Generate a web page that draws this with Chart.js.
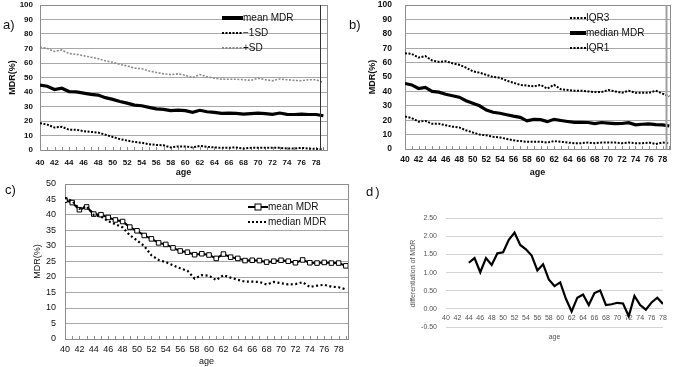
<!DOCTYPE html>
<html>
<head>
<meta charset="utf-8">
<script src="https://cdn.jsdelivr.net/npm/chart.js@4.4.0/dist/chart.umd.min.js"></script>
<style>
    body { margin: 0; background: #fff; width: 677px; height: 367px; position: relative; overflow: hidden; font-family: "Liberation Sans", Arial, sans-serif; }
    canvas { position: absolute; }
    .tag { position: absolute; font-size: 13px; color: #111; }
    .leg { position: absolute; font-size: 10px; color: #111; }
    .leg div { height: 15px; line-height: 15px; white-space: nowrap; }
    .leg svg { vertical-align: middle; }
</style>
</head>
<body>
<canvas id="chartA" width="340" height="180" style="left:0;top:0"></canvas>
<canvas id="chartB" width="337" height="180" style="left:340px;top:0"></canvas>
<canvas id="chartC" width="360" height="192" style="left:0;top:175px"></canvas>
<canvas id="chartD" width="317" height="192" style="left:360px;top:175px"></canvas>

<div class="tag" style="left:3px;top:17px">a)</div>
<div class="tag" style="left:349px;top:17px">b)</div>
<div class="tag" style="left:5px;top:182px">c)</div>
<div class="tag" style="left:366px;top:184px;letter-spacing:2px">d)</div>

<div class="leg" style="left:222px;top:10px">
    <div><svg width="21" height="8"><line x1="0" y1="4" x2="21" y2="4" stroke="#000" stroke-width="4"/></svg>mean MDR</div>
    <div><svg width="21" height="8"><line x1="0" y1="4" x2="21" y2="4" stroke="#000" stroke-width="2" stroke-dasharray="2,1.5"/></svg>−1SD</div>
    <div><svg width="21" height="8"><line x1="0" y1="4" x2="21" y2="4" stroke="#888" stroke-width="2" stroke-dasharray="2,1.5"/></svg>+SD</div>
</div>
<div class="leg" style="left:570px;top:10px">
    <div><svg width="16" height="8"><line x1="0" y1="4" x2="16" y2="4" stroke="#000" stroke-width="2" stroke-dasharray="2,1.5"/></svg>IQR3</div>
    <div><svg width="16" height="8"><line x1="0" y1="4" x2="16" y2="4" stroke="#000" stroke-width="4"/></svg>median MDR</div>
    <div><svg width="16" height="8"><line x1="0" y1="4" x2="16" y2="4" stroke="#000" stroke-width="2" stroke-dasharray="2,1.5"/></svg>IQR1</div>
</div>
<div class="leg" style="left:248px;top:199px">
    <div><svg width="20" height="8"><line x1="0" y1="4" x2="20" y2="4" stroke="#000" stroke-width="2"/><rect x="7" y="1" width="6" height="6" fill="#fff" stroke="#000" stroke-width="1"/></svg>mean MDR</div>
    <div><svg width="20" height="8"><line x1="0" y1="4" x2="20" y2="4" stroke="#000" stroke-width="2" stroke-dasharray="2,2"/></svg>median MDR</div>
</div>

<script>
// --- Data ---
const ages = [40, 41, 42, 43, 44, 45, 46, 47, 48, 49, 50, 51, 52, 53, 54, 55, 56, 57, 58, 59,
              60, 61, 62, 63, 64, 65, 66, 67, 68, 69, 70, 71, 72, 73, 74, 75, 76, 77, 78, 79];

const meanMDR = [44.8, 44.0, 41.7, 42.6, 40.3, 40.1, 39.2, 38.4, 37.9, 36.1,
                 34.9, 33.4, 32.3, 31.0, 30.5, 29.4, 28.4, 28.0, 27.2, 27.5,
                 27.1, 26.0, 27.4, 26.4, 26.0, 25.3, 25.4, 25.3, 24.8, 25.1,
                 25.4, 25.1, 24.6, 25.5, 24.6, 24.5, 24.7, 24.5, 24.5, 23.6];

const minus1SD = [18.5, 17.5, 15.5, 16.0, 14.0, 14.0, 13.0, 12.5, 12.0, 10.5,
                  9.0, 7.5, 6.5, 5.5, 5.0, 4.0, 3.5, 3.2, 1.8, 2.5,
                  2.5, 1.8, 2.8, 2.2, 1.8, 1.5, 1.5, 1.8, 1.0, 1.5,
                  1.5, 1.5, 1.5, 1.5, 1.0, 1.0, 1.5, 1.0, 0.8, 0.5];

const plus1SD = [71.0, 70.0, 68.0, 69.0, 66.5, 66.0, 65.0, 64.0, 63.0, 61.5,
                 60.5, 59.0, 58.0, 56.5, 56.0, 54.5, 53.5, 52.5, 52.0, 52.5,
                 51.5, 50.0, 52.0, 50.5, 49.5, 48.8, 48.8, 48.8, 48.5, 48.0,
                 49.5, 48.5, 47.8, 49.0, 48.5, 48.0, 47.8, 48.5, 48.5, 46.5];

const medianMDR = [45.5, 44.5, 42.0, 42.8, 40.0, 39.5, 38.0, 37.0, 36.0, 33.5,
                   31.8, 30.0, 27.0, 25.5, 24.8, 23.8, 22.8, 22.0, 19.5, 20.6,
                   20.4, 19.0, 20.6, 19.8, 19.1, 18.5, 18.5, 18.4, 17.6, 18.4,
                   18.0, 17.6, 17.7, 18.3, 16.8, 17.2, 17.5, 16.9, 16.7, 16.0];

const iqr3 = [66.5, 66.0, 63.5, 64.5, 61.5, 60.5, 61.0, 59.5, 58.5, 56.5,
              54.0, 53.0, 51.5, 50.0, 49.5, 47.5, 46.0, 44.5, 44.0, 43.5,
              44.5, 42.0, 44.5, 41.5, 41.0, 40.5, 40.5, 40.0, 39.5, 39.5,
              41.0, 40.0, 39.0, 40.5, 39.0, 39.0, 39.0, 40.5, 38.5, 36.5];

const iqr1 = [22.5, 21.5, 19.0, 19.5, 17.5, 17.5, 16.5, 15.5, 15.0, 13.0,
              11.5, 10.0, 9.5, 8.5, 8.0, 7.0, 6.0, 5.5, 5.0, 5.0,
              5.0, 4.5, 5.5, 5.0, 4.5, 4.0, 4.0, 4.5, 4.0, 4.5,
              4.5, 4.5, 4.0, 4.5, 4.0, 4.0, 4.5, 3.5, 4.5, 4.0];

const diffAges = [40, 41, 42, 43, 44, 45, 46, 47, 48, 49, 50, 51, 52, 53, 54, 55, 56, 57, 58, 59,
                  60, 61, 62, 63, 64, 65, 66, 67, 68, 69, 70, 71, 72, 73, 74, 75, 76, 77, 78];

const diffMDR = [null, null, null, null, 1.27, 1.40, 1.01, 1.40, 1.21, 1.53,
                 1.56, 1.90, 2.10, 1.76, 1.64, 1.47, 1.06, 1.23, 0.81, 0.63,
                 0.73, 0.28, -0.07, 0.31, 0.40, 0.11, 0.44, 0.51, 0.11, 0.13,
                 0.17, 0.15, -0.20, 0.36, 0.11, -0.02, 0.18, 0.31, 0.14];

const diffTicks = [-0.5, 0, 0.5, 1, 1.5, 2, 2.5];

// --- Helpers ---
Chart.defaults.font.family = '"Liberation Sans", Arial, sans-serif';
Chart.defaults.animation = false;

const pts = (xs, ys) => xs.map((x, i) => ({ x: x, y: ys[i] }));

// keep the plot area where the layout padding puts it
function noScalePadding(s) {
    s.paddingTop = 0; s.paddingBottom = 0; s.paddingLeft = 0; s.paddingRight = 0;
}

const framePlugin = {
    id: 'frame',
    beforeDatasetsDraw(chart, args, opts) {
        const { ctx, chartArea: a, scales: { x } } = chart;
        ctx.save();
        ctx.strokeStyle = '#8c8c8c';
        ctx.lineWidth = 1;
        ctx.strokeRect(Math.round(a.left) + 0.5, Math.round(a.top) + 0.5, Math.round(a.width), Math.round(a.height));
        // little inside tick marks at every age
        ctx.beginPath();
        for (let v = Math.ceil(x.min); v <= x.max; v++) {
            const px = Math.round(x.getPixelForValue(v)) + 0.5;
            ctx.moveTo(px, a.bottom);
            ctx.lineTo(px, a.bottom - 3);
        }
        ctx.stroke();
        ctx.restore();
    },
    afterDatasetsDraw(chart, args, opts) {
        if (opts.markAt == null) return;
        const { ctx, chartArea: a, scales: { x } } = chart;
        const px = Math.round(x.getPixelForValue(opts.markAt)) + 0.5;
        ctx.save();
        ctx.strokeStyle = opts.markColor;
        ctx.lineWidth = opts.markWidth;
        ctx.beginPath();
        ctx.moveTo(px, a.top);
        ctx.lineTo(px, a.bottom);
        ctx.stroke();
        ctx.restore();
    }
};

function lineSet(label, data, color, width, dash) {
    return {
        label: label,
        data: data,
        borderColor: color,
        borderWidth: width,
        borderDash: dash || [],
        pointRadius: 0,
        tension: 0,
        fill: false
    };
}

function mdrOptions(p) {
    return {
        responsive: false,
        layout: { padding: p.pad },
        plugins: {
            legend: { display: false },
            tooltip: { enabled: false },
            frame: { markAt: p.markAt, markColor: p.markColor, markWidth: p.markWidth }
        },
        scales: {
            x: {
                type: 'linear', min: 40, max: p.xMax,
                ticks: { stepSize: 2, includeBounds: false, autoSkip: false, maxRotation: 0,
                         padding: p.xPad, color: '#111', font: p.tickFont },
                grid: { display: false, drawTicks: false },
                border: { display: false },
                title: { display: true, text: 'age', color: '#111', font: p.titleFont,
                         padding: { top: 0, bottom: p.ageBottom } },
                afterFit(s) { s.height = p.xHeight; noScalePadding(s); }
            },
            y: {
                min: 0, max: p.yMax,
                ticks: { stepSize: p.yStep, autoSkip: false, padding: p.yPad, color: '#111', font: p.tickFont },
                grid: { color: '#a8a8a8', drawTicks: false },
                border: { display: false },
                title: { display: true, text: 'MDR(%)', color: '#111', font: p.titleFont,
                         padding: { top: p.yTitleTop, bottom: 0 } },
                afterFit(s) { s.width = p.yWidth; noScalePadding(s); }
            }
        }
    };
}

// --- d) differentiation of MDR ---
new Chart(document.getElementById('chartD'), {
    type: 'line',
    data: {
        datasets: [lineSet('differentiation of MDR', pts(diffAges, diffMDR), '#000', 2.2)]
    },
    options: {
        responsive: false,
        layout: { padding: { top: 43, right: 14, left: 0, bottom: 0 } },
        plugins: { legend: { display: false }, tooltip: { enabled: false } },
        scales: {
            x: {
                type: 'linear', min: 40, max: 78, position: { y: 0 },
                ticks: { stepSize: 2, autoSkip: false, maxRotation: 0, padding: 5,
                         color: '#555', font: { size: 7 } },
                grid: { display: false, drawTicks: false },
                border: { display: false },
                afterFit(s) { s.height = 0; }
            },
            x2: {
                type: 'linear', position: 'bottom',
                ticks: { display: false },
                grid: { display: false, drawTicks: false },
                border: { display: false },
                title: { display: true, text: 'age', color: '#555', font: { size: 7 },
                         padding: { top: 0, bottom: 26 } },
                afterFit(s) { s.height = 38; }
            },
            y: {
                min: -0.55, max: 2.5,
                afterBuildTicks(s) { s.ticks = diffTicks.map(v => ({ value: v })); },
                ticks: { autoSkip: false, padding: 9, color: '#555', font: { size: 7 },
                         callback: v => v.toFixed(2) },
                grid: { color: '#d4d4d4', drawTicks: false },
                border: { display: false },
                title: { display: true, text: 'differentiation of MDR', color: '#555',
                         font: { size: 7 }, padding: { top: 49, bottom: 0 } },
                afterFit(s) { s.width = 86; }
            }
        }
    }
});

// --- a) mean and SD ---
new Chart(document.getElementById('chartA'), {
    type: 'line',
    data: {
        datasets: [
            lineSet('+SD', pts(ages, plus1SD), '#8a8a8a', 1.6, [2, 1.5]),
            lineSet('-1SD', pts(ages, minus1SD), '#000', 2, [2, 1.5]),
            lineSet('mean MDR', pts(ages, meanMDR), '#000', 3.2)
        ]
    },
    options: mdrOptions({
        pad: { top: 5, right: 13, left: 0, bottom: 0 },
        xMax: 79.5, yMax: 100, yStep: 10,
        xHeight: 30, yWidth: 40, xPad: 8, yPad: 7,
        tickFont: { size: 8, weight: 'bold' },
        titleFont: { size: 9, weight: 'bold' },
        ageBottom: 2, yTitleTop: 7,
        markAt: 78.5, markColor: '#333', markWidth: 1
    }),
    plugins: [framePlugin]
});

// --- b) median and IQR ---
new Chart(document.getElementById('chartB'), {
    type: 'line',
    data: {
        datasets: [
            lineSet('IQR3', pts(ages, iqr3), '#000', 2, [2, 1.5]),
            lineSet('IQR1', pts(ages, iqr1), '#000', 2, [2, 1.5]),
            lineSet('median MDR', pts(ages, medianMDR), '#000', 3.2)
        ]
    },
    options: mdrOptions({
        pad: { top: 5, right: 7, left: 0, bottom: 0 },
        xMax: 79.1, yMax: 100, yStep: 10,
        xHeight: 31, yWidth: 65, xPad: 6, yPad: 13,
        tickFont: { size: 8.5, weight: 'bold' },
        titleFont: { size: 9, weight: 'bold' },
        ageBottom: 2, yTitleTop: 27,
        markAt: 78.5, markColor: '#a0a0a0', markWidth: 2
    }),
    plugins: [framePlugin]
});

// --- c) mean vs median ---
const meanSet = lineSet('mean MDR', pts(ages, meanMDR), '#000', 2);
meanSet.pointStyle = 'rect';
meanSet.pointRadius = 3.2;
meanSet.pointBackgroundColor = '#fff';
meanSet.pointBorderColor = '#000';
meanSet.pointBorderWidth = 1;

new Chart(document.getElementById('chartC'), {
    type: 'line',
    data: {
        datasets: [
            lineSet('median MDR', pts(ages, medianMDR), '#000', 2.2, [2, 2.5]),
            meanSet
        ]
    },
    options: mdrOptions({
        pad: { top: 9, right: 12, left: 0, bottom: 0 },
        xMax: 79.3, yMax: 50, yStep: 5,
        xHeight: 28, yWidth: 65, xPad: 5, yPad: 9,
        tickFont: { size: 9 },
        titleFont: { size: 9 },
        ageBottom: 0, yTitleTop: 32
    }),
    plugins: [framePlugin]
});
</script>
</body>
</html>
